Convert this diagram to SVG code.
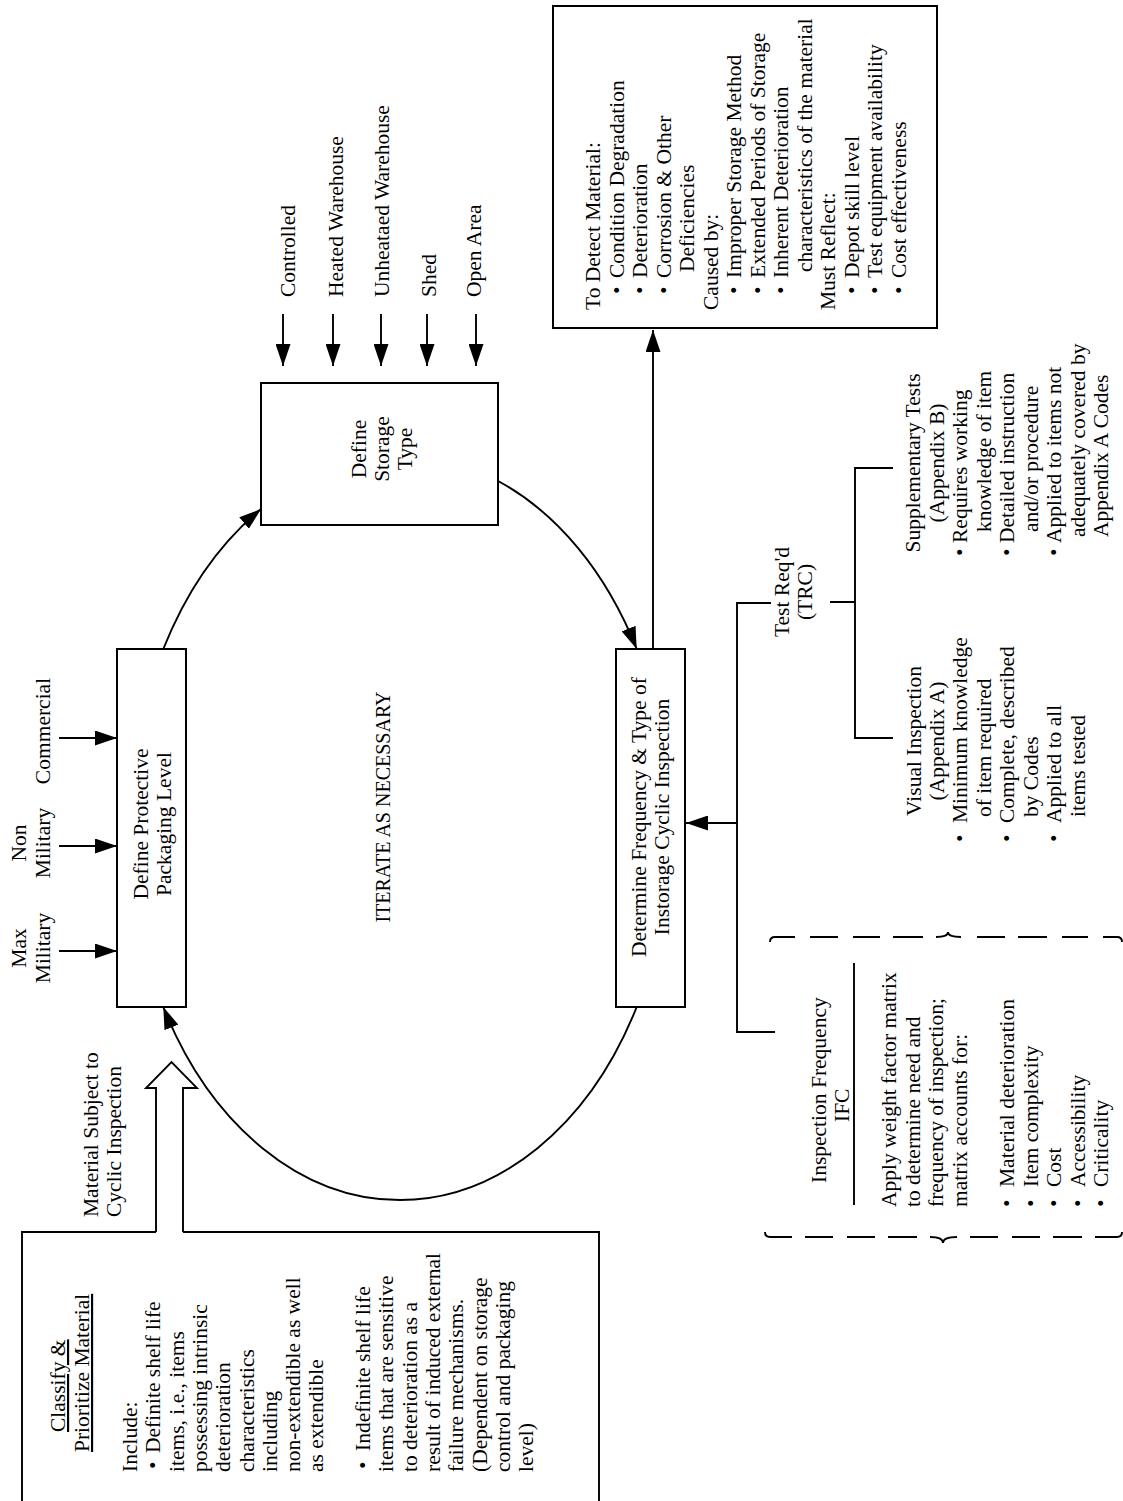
<svg xmlns="http://www.w3.org/2000/svg" width="1123" height="1501" viewBox="0 0 1123 1501">
<style>
.t{font-family:"Liberation Serif","Times New Roman",serif;font-size:21.5px;fill:#000}
.c{text-anchor:middle}
.box{fill:#fff;stroke:#000;stroke-width:2}
.ln{fill:none;stroke:#000;stroke-width:1.9}
.u{text-decoration:underline}
</style>
<defs>
<marker id="ah" viewBox="0 0 22 15" refX="22" refY="7.5" markerWidth="22" markerHeight="15" markerUnits="userSpaceOnUse" orient="auto"><path d="M0,0 L22,7.5 L0,15 z" fill="#000"/></marker>
</defs>
<rect x="0" y="0" width="1123" height="1501" fill="#fff"/>
<g transform="translate(0,1501) rotate(-90)">

<g id="classify">
<path class="ln" stroke-width="2" d="M0,22 H269 V156 M269,183 V599 H0"/>
<text class="t u" x="69" y="65">Classify &amp;</text>
<text class="t u" x="49" y="89">Prioritize Material</text>
<text class="t">
<tspan x="29" y="137">Include:</tspan>
<tspan x="32" y="160.3">•</tspan><tspan x="48" y="160.3">Definite shelf life</tspan>
<tspan x="29" y="183.6">items, i.e., items</tspan>
<tspan x="29" y="206.9">possessing intrinsic</tspan>
<tspan x="29" y="230.2">deterioration</tspan>
<tspan x="29" y="253.5">characteristics</tspan>
<tspan x="29" y="276.8">including</tspan>
<tspan x="29" y="300.1">non-extendible as well</tspan>
<tspan x="29" y="323.4">as extendible</tspan>
<tspan x="32" y="370">•</tspan><tspan x="50" y="370">Indefinite shelf life</tspan>
<tspan x="29" y="393.3">items that are sensitive</tspan>
<tspan x="29" y="416.6">to deterioration as a</tspan>
<tspan x="29" y="439.9">result of induced external</tspan>
<tspan x="29" y="463.2">failure mechanisms.</tspan>
<tspan x="29" y="486.5">(Dependent on storage</tspan>
<tspan x="29" y="509.8">control and packaging</tspan>
<tspan x="29" y="533.1">level)</tspan>
</text>
</g>

<g id="material-input">
<path class="ln" stroke-width="2" fill="#fff" d="M269,156 H413 V146 L439,171.5 L413,197 V183 H269"/>
<text class="t" x="284" y="98">Material Subject to</text>
<text class="t" x="284" y="121">Cyclic Inspection</text>
</g>

<g id="protective">
<rect class="box" x="494" y="117" width="358" height="69"/>
<text class="t c" x="677" y="148">Define Protective</text>
<text class="t c" x="677" y="171">Packaging Level</text>
</g>

<g id="packaging-inputs">
<text class="t c" x="553" y="26">Max</text>
<text class="t c" x="553" y="50">Military</text>
<text class="t c" x="658" y="26">Non</text>
<text class="t c" x="658" y="50">Military</text>
<text class="t c" x="770" y="50">Commercial</text>
</g>

<g id="iterate">
<text class="t c" x="694" y="390" style="font-size:20px">ITERATE AS NECESSARY</text>
</g>

<g id="storage">
<rect class="box" x="976" y="261" width="142" height="237"/>
<text class="t c" x="1052" y="366">Define</text>
<text class="t c" x="1052" y="389">Storage</text>
<text class="t c" x="1052" y="412">Type</text>
</g>

<g id="storage-inputs">
<text class="t" x="1204" y="295">Controlled</text>
<text class="t" x="1204" y="343">Heated Warehouse</text>
<text class="t" x="1204" y="389">Unheataed Warehouse</text>
<text class="t" x="1204" y="436">Shed</text>
<text class="t" x="1204" y="481">Open Area</text>
</g>

<g id="detect">
<rect class="box" x="1173" y="553" width="322" height="384"/>
<text class="t">
<tspan x="1191" y="600">To Detect Material:</tspan>
<tspan x="1207" y="623.5">•</tspan><tspan x="1223" y="623.5">Condition Degradation</tspan>
<tspan x="1207" y="647">•</tspan><tspan x="1223" y="647">Deterioration</tspan>
<tspan x="1207" y="670.5">•</tspan><tspan x="1223" y="670.5">Corrosion &amp; Other</tspan>
<tspan x="1229" y="694">Deficiencies</tspan>
<tspan x="1191" y="717.5">Caused by:</tspan>
<tspan x="1207" y="741">•</tspan><tspan x="1223" y="741">Improper Storage Method</tspan>
<tspan x="1207" y="764.5">•</tspan><tspan x="1223" y="764.5">Extended Periods of Storage</tspan>
<tspan x="1207" y="788">•</tspan><tspan x="1223" y="788">Inherent Deterioration</tspan>
<tspan x="1229" y="811.5">characteristics of the material</tspan>
<tspan x="1191" y="835">Must Reflect:</tspan>
<tspan x="1207" y="858.5">•</tspan><tspan x="1223" y="858.5">Depot skill level</tspan>
<tspan x="1207" y="882">•</tspan><tspan x="1223" y="882">Test equipment availability</tspan>
<tspan x="1207" y="905.5">•</tspan><tspan x="1223" y="905.5">Cost effectiveness</tspan>
</text>
</g>

<g id="determine">
<rect class="box" x="494" y="616" width="358" height="69"/>
<text class="t c" x="684" y="646">Determine Frequency &amp; Type of</text>
<text class="t c" x="684" y="669">Instorage Cyclic Inspection</text>
</g>

<g id="trc">
<text class="t c" x="909" y="789">Test Req'd</text>
<text class="t c" x="909" y="812">(TRC)</text>
</g>

<g id="supplementary">
<text class="t c" x="1038" y="920">Supplementary Tests</text>
<text class="t c" x="1038" y="943.5">(Appendix B)</text>
<text class="t">
<tspan x="945" y="967">•</tspan><tspan x="958" y="967">Requires working</tspan>
<tspan x="969" y="990.5">knowledge of item</tspan>
<tspan x="945" y="1014">•</tspan><tspan x="958" y="1014">Detailed instruction</tspan>
<tspan x="969" y="1037.5">and/or procedure</tspan>
<tspan x="945" y="1061">•</tspan><tspan x="958" y="1061">Applied to items not</tspan>
<tspan x="964" y="1084.5">adequately covered by</tspan>
<tspan x="964" y="1108">Appendix A Codes</tspan>
</text>
</g>

<g id="visual">
<text class="t c" x="760" y="921">Visual Inspection</text>
<text class="t c" x="760" y="944">(Appendix A)</text>
<text class="t">
<tspan x="659" y="967">•</tspan><tspan x="678" y="967">Minimum knowledge</tspan>
<tspan x="684" y="990.5">of item required</tspan>
<tspan x="659" y="1014">•</tspan><tspan x="678" y="1014">Complete, described</tspan>
<tspan x="684" y="1037.5">by Codes</tspan>
<tspan x="659" y="1061">•</tspan><tspan x="678" y="1061">Applied to all</tspan>
<tspan x="684" y="1084.5">items tested</tspan>
</text>
</g>

<g id="ifc">
<text class="t" x="318" y="826">Inspection Frequency</text>
<text class="t" x="379" y="849">IFC</text>
<path class="ln" d="M296,854 H538"/>
<text class="t">
<tspan x="294" y="896">Apply weight factor matrix</tspan>
<tspan x="294" y="919.5">to determine need and</tspan>
<tspan x="294" y="943">frequency of inspection;</tspan>
<tspan x="294" y="966.5">matrix accounts for:</tspan>
<tspan x="294" y="1014">•</tspan><tspan x="314" y="1014">Material deterioration</tspan>
<tspan x="294" y="1037.5">•</tspan><tspan x="314" y="1037.5">Item complexity</tspan>
<tspan x="294" y="1061">•</tspan><tspan x="314" y="1061">Cost</tspan>
<tspan x="294" y="1084.5">•</tspan><tspan x="314" y="1084.5">Accessibility</tspan>
<tspan x="294" y="1108">•</tspan><tspan x="314" y="1108">Criticality</tspan>
</text>
<path class="ln" d="M269,765 Q264,765 264,770 V792 M264,805 V833 M264,847 V875 M264,888 V917 M264,930 Q264,943 258,943 Q264,943 264,957 M264,970 V998 M264,1012 V1040 M264,1053 V1082 M264,1095 V1117 Q264,1122 269,1122"/>
<path class="ln" d="M559,770 Q564,770 564,775 V795 M564,810 V838 M564,853 V880 M564,893 V923 M564,936 Q564,948 569,948 Q564,948 564,961 M564,977 V1005 M564,1018 V1047 M564,1062 V1088 M564,1103 V1117 Q564,1122 559,1122"/>
</g>

<g id="connectors">
<path class="ln" d="M852,163.3 A372,270 0 0 1 992,261" marker-end="url(#ah)"/>
<path class="ln" d="M1020,498 A372,270 0 0 1 852,636.7" marker-end="url(#ah)"/>
<path class="ln" d="M494,636.7 A372,270 0 0 1 494,163.3" marker-end="url(#ah)"/>
<path class="ln" d="M550,59 V117" marker-end="url(#ah)"/>
<path class="ln" d="M655,59 V117" marker-end="url(#ah)"/>
<path class="ln" d="M763,59 V117" marker-end="url(#ah)"/>
<path class="ln" d="M1187,283 H1135" marker-end="url(#ah)"/>
<path class="ln" d="M1187,333 H1135" marker-end="url(#ah)"/>
<path class="ln" d="M1187,381 H1135" marker-end="url(#ah)"/>
<path class="ln" d="M1187,427 H1135" marker-end="url(#ah)"/>
<path class="ln" d="M1187,476 H1135" marker-end="url(#ah)"/>
<path class="ln" d="M852,653 H1171" marker-end="url(#ah)"/>
<path class="ln" d="M898,771 V737 H469 V775"/>
<path class="ln" d="M678,737 V686" marker-end="url(#ah)"/>
<path class="ln" d="M899,830 V855 M1033,893 V855 H763 V893"/>
</g>

</g>
</svg>
